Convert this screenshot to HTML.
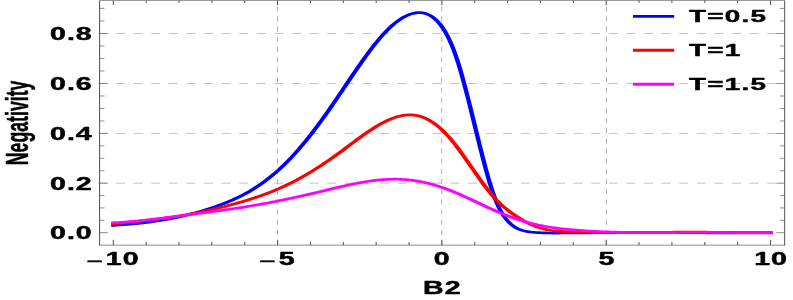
<!DOCTYPE html>
<html><head><meta charset="utf-8"><title>Negativity vs B2</title>
<style>
html,body{margin:0;padding:0;background:#fff;}
body{width:793px;height:300px;overflow:hidden;}
svg{display:block;will-change:transform;}
text{font-family:"Liberation Sans",sans-serif;font-weight:bold;fill:#000;stroke:#000;stroke-width:0.45px;stroke-linejoin:round;}
</style></head><body>
<svg width="793" height="300" viewBox="0 0 793 300">
<rect x="0" y="0" width="793" height="300" fill="#ffffff"/>

<g stroke-width="1" fill="none">
<line x1="98.35" y1="183.18" x2="784.65" y2="183.18" stroke="#c3c3c3" stroke-dasharray="9 8.6"/>
<line x1="98.35" y1="133.45" x2="784.65" y2="133.45" stroke="#c3c3c3" stroke-dasharray="9 8.6"/>
<line x1="98.35" y1="83.50" x2="784.65" y2="83.50" stroke="#c3c3c3" stroke-dasharray="9 8.6"/>
<line x1="98.35" y1="33.50" x2="784.65" y2="33.50" stroke="#c3c3c3" stroke-dasharray="9 8.6"/>
<line x1="277.50" y1="245.15" x2="277.50" y2="0.4" stroke="#adadad" stroke-dasharray="5 5.17"/>
<line x1="441.70" y1="245.15" x2="441.70" y2="0.4" stroke="#adadad" stroke-dasharray="5 5.17"/>
<line x1="606.45" y1="245.15" x2="606.45" y2="0.4" stroke="#adadad" stroke-dasharray="5 5.17"/>
</g>
<g transform="scale(1.62,1)" fill="none" stroke-width="2.7" stroke-linejoin="round">
<path d="M68.64 225.58L69.62 225.47L70.59 225.36L71.57 225.24L72.54 225.13L73.52 225.01L74.49 224.89L75.47 224.77L76.44 224.65L77.42 224.53L78.39 224.40L79.37 224.26L80.34 224.13L81.32 223.99L82.29 223.85L83.27 223.70L84.24 223.55L85.22 223.39L86.19 223.23L87.17 223.06L88.14 222.89L89.12 222.71L90.09 222.52L91.07 222.33L92.04 222.13L93.02 221.93L93.99 221.72L94.97 221.50L95.94 221.28L96.92 221.04L97.89 220.80L98.87 220.55L99.84 220.30L100.82 220.03L101.79 219.75L102.77 219.47L103.74 219.18L104.72 218.88L105.69 218.57L106.67 218.26L107.64 217.93L108.62 217.60L109.59 217.26L110.57 216.91L111.54 216.55L112.52 216.19L113.49 215.81L114.47 215.43L115.44 215.04L116.42 214.64L117.39 214.24L118.37 213.82L119.34 213.40L120.32 212.97L121.29 212.53L122.27 212.08L123.24 211.62L124.22 211.16L125.19 210.69L126.17 210.21L127.14 209.72L128.12 209.22L129.09 208.72L130.07 208.20L131.04 207.68L132.02 207.15L132.99 206.61L133.97 206.06L134.94 205.50L135.92 204.93L136.89 204.34L137.87 203.74L138.84 203.13L139.82 202.51L140.79 201.86L141.77 201.21L142.74 200.54L143.72 199.85L144.69 199.14L145.67 198.41L146.64 197.67L147.62 196.91L148.59 196.12L149.57 195.32L150.54 194.49L151.52 193.64L152.49 192.77L153.47 191.88L154.44 190.96L155.42 190.02L156.39 189.05L157.37 188.06L158.34 187.04L159.32 185.99L160.29 184.92L161.27 183.83L162.24 182.70L163.22 181.55L164.19 180.37L165.17 179.17L166.14 177.93L167.12 176.67L168.09 175.38L169.07 174.06L170.04 172.71L171.02 171.33L171.99 169.93L172.97 168.49L173.94 167.02L174.92 165.52L175.89 163.99L176.87 162.43L177.84 160.84L178.82 159.21L179.79 157.56L180.77 155.87L181.74 154.15L182.72 152.40L183.69 150.62L184.67 148.81L185.64 146.97L186.62 145.11L187.59 143.21L188.57 141.29L189.54 139.35L190.52 137.37L191.49 135.38L192.47 133.35L193.44 131.31L194.41 129.24L195.39 127.15L196.36 125.03L197.34 122.90L198.31 120.74L199.29 118.56L200.26 116.37L201.24 114.15L202.21 111.92L203.19 109.66L204.16 107.39L205.14 105.11L206.11 102.81L207.09 100.50L208.06 98.17L209.04 95.84L210.01 93.50L210.99 91.16L211.96 88.81L212.94 86.47L213.91 84.12L214.89 81.78L215.86 79.44L216.84 77.11L217.81 74.78L218.79 72.47L219.76 70.17L220.74 67.88L221.71 65.61L222.69 63.35L223.66 61.12L224.64 58.90L225.61 56.71L226.59 54.55L227.56 52.41L228.54 50.30L229.51 48.23L230.49 46.19L231.46 44.19L232.44 42.23L233.41 40.31L234.39 38.44L235.36 36.62L236.34 34.84L237.31 33.12L238.29 31.45L239.26 29.84L240.24 28.29L241.21 26.80L242.19 25.38L243.16 24.02L244.14 22.73L245.11 21.51L246.09 20.36L247.06 19.28L248.04 18.28L249.01 17.34L249.99 16.49L250.96 15.72L251.94 15.02L252.91 14.40L253.89 13.87L254.86 13.43L255.84 13.07L256.81 12.82L257.79 12.66L258.76 12.61L259.74 12.66L260.71 12.83L261.69 13.12L262.66 13.54L263.64 14.08L264.61 14.76L265.59 15.58L266.56 16.55L267.54 17.67L268.51 18.96L269.49 20.43L270.46 22.07L271.44 23.90L272.41 25.92L273.39 28.14L274.36 30.58L275.34 33.26L276.31 36.18L277.29 39.36L278.26 42.81L279.24 46.55L280.21 50.59L281.19 54.94L282.16 59.60L283.14 64.55L284.11 69.76L285.09 75.21L286.06 80.87L287.04 86.72L288.01 92.73L288.99 98.87L289.96 105.13L290.94 111.47L291.91 117.87L292.89 124.30L293.86 130.74L294.84 137.15L295.81 143.52L296.79 149.81L297.76 156.00L298.74 162.05L299.71 167.96L300.69 173.67L301.66 179.18L302.64 184.43L303.61 189.42L304.59 194.10L305.56 198.44L306.54 202.42L307.51 206.00L308.49 209.22L309.46 212.09L310.44 214.65L311.41 216.95L312.39 219.01L313.36 220.88L314.34 222.55L315.31 224.04L316.29 225.35L317.26 226.50L318.24 227.49L319.21 228.34L320.19 229.06L321.16 229.67L322.14 230.19L323.11 230.64L324.09 231.02L325.06 231.35L326.04 231.62L327.01 231.85L327.99 232.05L328.96 232.22L329.94 232.37L330.91 232.50L331.89 232.60L332.86 232.69L333.84 232.77L334.81 232.83L335.79 232.89L336.76 232.93L337.74 232.96L338.71 232.99L339.69 233.01L340.66 233.03L341.64 233.04L342.61 233.04L343.59 233.04L344.56 233.04L345.54 233.03L346.51 233.02L347.49 233.01L348.46 233.00L349.44 232.98L350.41 232.97L351.39 232.95L352.36 232.94L353.34 232.92L354.31 232.91L355.29 232.89L356.26 232.88L357.24 232.87L358.21 232.85L359.19 232.84L360.16 232.83L361.14 232.82L362.11 232.81L363.09 232.80L364.06 232.79L365.04 232.78L366.01 232.77L366.99 232.76L367.96 232.76L368.94 232.75L369.91 232.74L370.89 232.73L371.86 232.73L372.84 232.72L373.81 232.72L374.79 232.71L375.76 232.71L376.74 232.70L377.71 232.70L378.69 232.69L379.66 232.69L380.64 232.69L381.61 232.68L382.59 232.68L383.56 232.68L384.54 232.68L385.51 232.67L386.49 232.67L387.46 232.67L388.44 232.67L389.41 232.67L390.39 232.67L391.36 232.67L392.34 232.67L393.31 232.67L394.29 232.67L395.26 232.67L396.24 232.67L397.21 232.67L398.19 232.67L399.16 232.67L400.14 232.67L401.11 232.67L402.09 232.68L403.06 232.68L404.04 232.68L405.01 232.68L405.99 232.68L406.96 232.68L407.94 232.69L408.91 232.69L409.89 232.69L410.86 232.69L411.84 232.70L412.81 232.70L413.79 232.70L414.76 232.70L415.74 232.71L416.71 232.71L417.69 232.71L418.66 232.72L419.64 232.72L420.61 232.72L421.59 232.72L422.56 232.73L423.54 232.73L424.51 232.73L425.49 232.74L426.46 232.74L427.44 232.75L428.41 232.75L429.39 232.75L430.36 232.76L431.34 232.76L432.31 232.76L433.29 232.77L434.26 232.77L435.24 232.77L436.21 232.78L437.19 232.78L438.16 232.79L439.14 232.79L440.11 232.79L441.09 232.80L442.06 232.80L443.04 232.80L444.01 232.81L444.99 232.81L445.96 232.82L446.94 232.82L447.91 232.82L448.89 232.83L449.86 232.83L450.84 232.83L451.81 232.84L452.79 232.84L453.76 232.85L454.74 232.85L455.71 232.85L456.69 232.86L457.66 232.86L458.64 232.86L459.61 232.87L460.59 232.87L461.56 232.87L462.54 232.87L463.51 232.88L464.49 232.88L465.46 232.88L466.44 232.89L467.41 232.89L468.39 232.89L469.36 232.89L470.34 232.90L471.31 232.90L472.29 232.90L473.26 232.90L474.24 232.91L475.21 232.91L476.19 232.91L477.16 232.91" stroke="#0000ff"/>
<path d="M68.64 224.23L69.62 224.03L70.59 223.84L71.57 223.65L72.54 223.46L73.52 223.28L74.49 223.10L75.47 222.92L76.44 222.75L77.42 222.58L78.39 222.41L79.37 222.24L80.34 222.07L81.32 221.90L82.29 221.73L83.27 221.57L84.24 221.40L85.22 221.23L86.19 221.07L87.17 220.90L88.14 220.73L89.12 220.56L90.09 220.39L91.07 220.22L92.04 220.05L93.02 219.87L93.99 219.69L94.97 219.51L95.94 219.33L96.92 219.14L97.89 218.95L98.87 218.76L99.84 218.56L100.82 218.36L101.79 218.15L102.77 217.94L103.74 217.72L104.72 217.50L105.69 217.27L106.67 217.04L107.64 216.80L108.62 216.56L109.59 216.31L110.57 216.05L111.54 215.79L112.52 215.53L113.49 215.26L114.47 214.98L115.44 214.70L116.42 214.41L117.39 214.12L118.37 213.82L119.34 213.52L120.32 213.21L121.29 212.90L122.27 212.58L123.24 212.26L124.22 211.93L125.19 211.60L126.17 211.26L127.14 210.92L128.12 210.57L129.09 210.21L130.07 209.86L131.04 209.49L132.02 209.13L132.99 208.75L133.97 208.38L134.94 207.99L135.92 207.61L136.89 207.21L137.87 206.82L138.84 206.42L139.82 206.01L140.79 205.60L141.77 205.19L142.74 204.77L143.72 204.34L144.69 203.91L145.67 203.48L146.64 203.04L147.62 202.59L148.59 202.14L149.57 201.68L150.54 201.21L151.52 200.74L152.49 200.26L153.47 199.77L154.44 199.28L155.42 198.78L156.39 198.27L157.37 197.75L158.34 197.22L159.32 196.68L160.29 196.13L161.27 195.58L162.24 195.01L163.22 194.44L164.19 193.85L165.17 193.25L166.14 192.65L167.12 192.03L168.09 191.40L169.07 190.76L170.04 190.10L171.02 189.44L171.99 188.76L172.97 188.07L173.94 187.37L174.92 186.65L175.89 185.92L176.87 185.17L177.84 184.42L178.82 183.64L179.79 182.86L180.77 182.06L181.74 181.24L182.72 180.41L183.69 179.57L184.67 178.71L185.64 177.84L186.62 176.96L187.59 176.06L188.57 175.15L189.54 174.22L190.52 173.29L191.49 172.34L192.47 171.38L193.44 170.41L194.41 169.42L195.39 168.42L196.36 167.42L197.34 166.40L198.31 165.36L199.29 164.32L200.26 163.27L201.24 162.20L202.21 161.13L203.19 160.04L204.16 158.95L205.14 157.84L206.11 156.73L207.09 155.60L208.06 154.47L209.04 153.32L210.01 152.17L210.99 151.01L211.96 149.84L212.94 148.66L213.91 147.48L214.89 146.30L215.86 145.12L216.84 143.93L217.81 142.75L218.79 141.57L219.76 140.40L220.74 139.24L221.71 138.08L222.69 136.93L223.66 135.79L224.64 134.67L225.61 133.56L226.59 132.47L227.56 131.39L228.54 130.34L229.51 129.30L230.49 128.29L231.46 127.29L232.44 126.33L233.41 125.39L234.39 124.48L235.36 123.60L236.34 122.75L237.31 121.94L238.29 121.16L239.26 120.41L240.24 119.71L241.21 119.04L242.19 118.42L243.16 117.84L244.14 117.30L245.11 116.81L246.09 116.38L247.06 115.99L248.04 115.66L249.01 115.38L249.99 115.16L250.96 115.00L251.94 114.90L252.91 114.86L253.89 114.89L254.86 114.99L255.84 115.15L256.81 115.38L257.79 115.69L258.76 116.06L259.74 116.52L260.71 117.05L261.69 117.66L262.66 118.34L263.64 119.10L264.61 119.94L265.59 120.84L266.56 121.83L267.54 122.88L268.51 124.01L269.49 125.21L270.46 126.48L271.44 127.82L272.41 129.24L273.39 130.72L274.36 132.28L275.34 133.90L276.31 135.59L277.29 137.35L278.26 139.18L279.24 141.07L280.21 143.02L281.19 145.03L282.16 147.09L283.14 149.19L284.11 151.33L285.09 153.51L286.06 155.72L287.04 157.95L288.01 160.20L288.99 162.46L289.96 164.74L290.94 167.02L291.91 169.30L292.89 171.57L293.86 173.83L294.84 176.08L295.81 178.31L296.79 180.51L297.76 182.68L298.74 184.82L299.71 186.92L300.69 188.97L301.66 190.97L302.64 192.92L303.61 194.81L304.59 196.63L305.56 198.39L306.54 200.07L307.51 201.69L308.49 203.23L309.46 204.71L310.44 206.14L311.41 207.50L312.39 208.81L313.36 210.08L314.34 211.29L315.31 212.47L316.29 213.60L317.26 214.70L318.24 215.76L319.21 216.80L320.19 217.80L321.16 218.77L322.14 219.71L323.11 220.62L324.09 221.49L325.06 222.32L326.04 223.12L327.01 223.89L327.99 224.61L328.96 225.30L329.94 225.95L330.91 226.56L331.89 227.13L332.86 227.65L333.84 228.14L334.81 228.58L335.79 228.98L336.76 229.35L337.74 229.68L338.71 229.98L339.69 230.25L340.66 230.49L341.64 230.70L342.61 230.89L343.59 231.06L344.56 231.20L345.54 231.33L346.51 231.44L347.49 231.53L348.46 231.62L349.44 231.69L350.41 231.76L351.39 231.82L352.36 231.87L353.34 231.93L354.31 231.98L355.29 232.03L356.26 232.07L357.24 232.11L358.21 232.15L359.19 232.19L360.16 232.23L361.14 232.26L362.11 232.29L363.09 232.32L364.06 232.35L365.04 232.37L366.01 232.40L366.99 232.42L367.96 232.44L368.94 232.45L369.91 232.47L370.89 232.48L371.86 232.49L372.84 232.50L373.81 232.51L374.79 232.52L375.76 232.53L376.74 232.53L377.71 232.54L378.69 232.54L379.66 232.54L380.64 232.54L381.61 232.54L382.59 232.54L383.56 232.54L384.54 232.53L385.51 232.53L386.49 232.52L387.46 232.52L388.44 232.51L389.41 232.50L390.39 232.50L391.36 232.49L392.34 232.48L393.31 232.47L394.29 232.46L395.26 232.45L396.24 232.44L397.21 232.43L398.19 232.42L399.16 232.41L400.14 232.39L401.11 232.38L402.09 232.37L403.06 232.36L404.04 232.35L405.01 232.34L405.99 232.32L406.96 232.31L407.94 232.30L408.91 232.29L409.89 232.28L410.86 232.27L411.84 232.26L412.81 232.25L413.79 232.24L414.76 232.23L415.74 232.22L416.71 232.21L417.69 232.20L418.66 232.20L419.64 232.19L420.61 232.18L421.59 232.18L422.56 232.17L423.54 232.17L424.51 232.17L425.49 232.17L426.46 232.17L427.44 232.17L428.41 232.17L429.39 232.17L430.36 232.17L431.34 232.18L432.31 232.18L433.29 232.19L434.26 232.20L435.24 232.21L436.21 232.22L437.19 232.23L438.16 232.24L439.14 232.25L440.11 232.27L441.09 232.28L442.06 232.30L443.04 232.31L444.01 232.33L444.99 232.34L445.96 232.36L446.94 232.38L447.91 232.39L448.89 232.41L449.86 232.43L450.84 232.44L451.81 232.46L452.79 232.47L453.76 232.49L454.74 232.51L455.71 232.52L456.69 232.53L457.66 232.55L458.64 232.56L459.61 232.57L460.59 232.59L461.56 232.60L462.54 232.61L463.51 232.62L464.49 232.62L465.46 232.63L466.44 232.64L467.41 232.64L468.39 232.64L469.36 232.64L470.34 232.64L471.31 232.64L472.29 232.64L473.26 232.63L474.24 232.63L475.21 232.62L476.19 232.61L477.16 232.59" stroke="#ff0000"/>
<path d="M68.64 222.85L69.62 222.79L70.59 222.72L71.57 222.65L72.54 222.57L73.52 222.48L74.49 222.39L75.47 222.29L76.44 222.18L77.42 222.07L78.39 221.95L79.37 221.82L80.34 221.69L81.32 221.56L82.29 221.41L83.27 221.27L84.24 221.12L85.22 220.96L86.19 220.80L87.17 220.64L88.14 220.47L89.12 220.30L90.09 220.12L91.07 219.95L92.04 219.76L93.02 219.58L93.99 219.39L94.97 219.20L95.94 219.01L96.92 218.81L97.89 218.61L98.87 218.42L99.84 218.21L100.82 218.01L101.79 217.81L102.77 217.60L103.74 217.40L104.72 217.19L105.69 216.98L106.67 216.78L107.64 216.57L108.62 216.36L109.59 216.15L110.57 215.95L111.54 215.74L112.52 215.54L113.49 215.33L114.47 215.13L115.44 214.92L116.42 214.72L117.39 214.51L118.37 214.31L119.34 214.11L120.32 213.90L121.29 213.70L122.27 213.50L123.24 213.29L124.22 213.09L125.19 212.88L126.17 212.68L127.14 212.47L128.12 212.26L129.09 212.06L130.07 211.85L131.04 211.64L132.02 211.43L132.99 211.22L133.97 211.00L134.94 210.79L135.92 210.57L136.89 210.35L137.87 210.13L138.84 209.91L139.82 209.69L140.79 209.46L141.77 209.24L142.74 209.01L143.72 208.78L144.69 208.54L145.67 208.31L146.64 208.07L147.62 207.83L148.59 207.58L149.57 207.34L150.54 207.09L151.52 206.84L152.49 206.58L153.47 206.32L154.44 206.06L155.42 205.80L156.39 205.53L157.37 205.26L158.34 204.98L159.32 204.71L160.29 204.42L161.27 204.14L162.24 203.85L163.22 203.56L164.19 203.27L165.17 202.98L166.14 202.68L167.12 202.38L168.09 202.07L169.07 201.77L170.04 201.46L171.02 201.14L171.99 200.83L172.97 200.51L173.94 200.19L174.92 199.87L175.89 199.54L176.87 199.21L177.84 198.88L178.82 198.55L179.79 198.21L180.77 197.87L181.74 197.53L182.72 197.19L183.69 196.84L184.67 196.49L185.64 196.14L186.62 195.79L187.59 195.44L188.57 195.08L189.54 194.72L190.52 194.36L191.49 194.00L192.47 193.63L193.44 193.26L194.41 192.89L195.39 192.52L196.36 192.15L197.34 191.77L198.31 191.40L199.29 191.02L200.26 190.64L201.24 190.26L202.21 189.88L203.19 189.50L204.16 189.12L205.14 188.74L206.11 188.36L207.09 187.99L208.06 187.61L209.04 187.24L210.01 186.87L210.99 186.51L211.96 186.15L212.94 185.80L213.91 185.44L214.89 185.10L215.86 184.76L216.84 184.43L217.81 184.10L218.79 183.78L219.76 183.47L220.74 183.16L221.71 182.86L222.69 182.58L223.66 182.30L224.64 182.03L225.61 181.77L226.59 181.52L227.56 181.28L228.54 181.05L229.51 180.84L230.49 180.63L231.46 180.44L232.44 180.26L233.41 180.10L234.39 179.94L235.36 179.80L236.34 179.68L237.31 179.57L238.29 179.47L239.26 179.39L240.24 179.32L241.21 179.27L242.19 179.24L243.16 179.22L244.14 179.22L245.11 179.23L246.09 179.26L247.06 179.31L248.04 179.38L249.01 179.47L249.99 179.57L250.96 179.69L251.94 179.84L252.91 180.00L253.89 180.18L254.86 180.38L255.84 180.60L256.81 180.84L257.79 181.10L258.76 181.38L259.74 181.68L260.71 182.00L261.69 182.33L262.66 182.68L263.64 183.06L264.61 183.44L265.59 183.85L266.56 184.28L267.54 184.72L268.51 185.17L269.49 185.65L270.46 186.14L271.44 186.65L272.41 187.17L273.39 187.72L274.36 188.27L275.34 188.84L276.31 189.43L277.29 190.03L278.26 190.65L279.24 191.28L280.21 191.93L281.19 192.59L282.16 193.26L283.14 193.94L284.11 194.64L285.09 195.34L286.06 196.05L287.04 196.76L288.01 197.49L288.99 198.22L289.96 198.95L290.94 199.69L291.91 200.43L292.89 201.17L293.86 201.92L294.84 202.66L295.81 203.41L296.79 204.15L297.76 204.89L298.74 205.63L299.71 206.36L300.69 207.09L301.66 207.81L302.64 208.53L303.61 209.23L304.59 209.93L305.56 210.63L306.54 211.31L307.51 211.98L308.49 212.65L309.46 213.30L310.44 213.95L311.41 214.58L312.39 215.21L313.36 215.82L314.34 216.42L315.31 217.01L316.29 217.59L317.26 218.16L318.24 218.71L319.21 219.25L320.19 219.78L321.16 220.29L322.14 220.79L323.11 221.27L324.09 221.74L325.06 222.20L326.04 222.64L327.01 223.06L327.99 223.47L328.96 223.86L329.94 224.23L330.91 224.59L331.89 224.94L332.86 225.27L333.84 225.59L334.81 225.89L335.79 226.18L336.76 226.46L337.74 226.73L338.71 226.99L339.69 227.24L340.66 227.47L341.64 227.70L342.61 227.91L343.59 228.12L344.56 228.32L345.54 228.51L346.51 228.70L347.49 228.87L348.46 229.04L349.44 229.20L350.41 229.36L351.39 229.51L352.36 229.66L353.34 229.80L354.31 229.94L355.29 230.08L356.26 230.20L357.24 230.33L358.21 230.45L359.19 230.57L360.16 230.68L361.14 230.79L362.11 230.89L363.09 230.99L364.06 231.09L365.04 231.18L366.01 231.27L366.99 231.36L367.96 231.44L368.94 231.52L369.91 231.59L370.89 231.66L371.86 231.73L372.84 231.80L373.81 231.86L374.79 231.92L375.76 231.97L376.74 232.03L377.71 232.08L378.69 232.12L379.66 232.17L380.64 232.21L381.61 232.25L382.59 232.29L383.56 232.32L384.54 232.35L385.51 232.38L386.49 232.41L387.46 232.44L388.44 232.46L389.41 232.48L390.39 232.50L391.36 232.52L392.34 232.54L393.31 232.55L394.29 232.56L395.26 232.57L396.24 232.58L397.21 232.59L398.19 232.59L399.16 232.60L400.14 232.60L401.11 232.60L402.09 232.61L403.06 232.61L404.04 232.60L405.01 232.60L405.99 232.60L406.96 232.60L407.94 232.59L408.91 232.59L409.89 232.58L410.86 232.57L411.84 232.57L412.81 232.56L413.79 232.55L414.76 232.54L415.74 232.53L416.71 232.53L417.69 232.52L418.66 232.51L419.64 232.50L420.61 232.49L421.59 232.48L422.56 232.48L423.54 232.47L424.51 232.46L425.49 232.45L426.46 232.45L427.44 232.44L428.41 232.44L429.39 232.43L430.36 232.43L431.34 232.42L432.31 232.42L433.29 232.42L434.26 232.42L435.24 232.42L436.21 232.42L437.19 232.43L438.16 232.43L439.14 232.43L440.11 232.44L441.09 232.44L442.06 232.45L443.04 232.45L444.01 232.46L444.99 232.46L445.96 232.47L446.94 232.48L447.91 232.48L448.89 232.49L449.86 232.50L450.84 232.50L451.81 232.51L452.79 232.52L453.76 232.52L454.74 232.53L455.71 232.54L456.69 232.54L457.66 232.55L458.64 232.55L459.61 232.56L460.59 232.56L461.56 232.56L462.54 232.57L463.51 232.57L464.49 232.57L465.46 232.57L466.44 232.57L467.41 232.57L468.39 232.57L469.36 232.56L470.34 232.56L471.31 232.55L472.29 232.55L473.26 232.54L474.24 232.53L475.21 232.52L476.19 232.51L477.16 232.49" stroke="#ff00ff"/>
</g>
<g fill="none">
<line x1="99.55" y1="0.4" x2="99.55" y2="245.5" stroke="#585858" stroke-width="1.05"/>
<line x1="784.65" y1="0.4" x2="784.65" y2="245.5" stroke="#585858" stroke-width="1.05"/>
<line x1="99.55" y1="0.4" x2="784.65" y2="0.4" stroke="#6a6a6a" stroke-width="0.75"/>
<line x1="99.55" y1="245.15" x2="784.65" y2="245.15" stroke="#6a6a6a" stroke-width="0.75"/>
<line x1="113.30" y1="245.15" x2="113.30" y2="239.85" stroke="#585858" stroke-width="1.05"/>
<line x1="113.30" y1="0.4" x2="113.30" y2="5.0" stroke="#585858" stroke-width="1.05"/>
<line x1="146.16" y1="245.15" x2="146.16" y2="241.95000000000002" stroke="#585858" stroke-width="1.05"/>
<line x1="146.16" y1="0.4" x2="146.16" y2="2.9000000000000004" stroke="#585858" stroke-width="1.05"/>
<line x1="179.02" y1="245.15" x2="179.02" y2="241.95000000000002" stroke="#585858" stroke-width="1.05"/>
<line x1="179.02" y1="0.4" x2="179.02" y2="2.9000000000000004" stroke="#585858" stroke-width="1.05"/>
<line x1="211.88" y1="245.15" x2="211.88" y2="241.95000000000002" stroke="#585858" stroke-width="1.05"/>
<line x1="211.88" y1="0.4" x2="211.88" y2="2.9000000000000004" stroke="#585858" stroke-width="1.05"/>
<line x1="244.74" y1="245.15" x2="244.74" y2="241.95000000000002" stroke="#585858" stroke-width="1.05"/>
<line x1="244.74" y1="0.4" x2="244.74" y2="2.9000000000000004" stroke="#585858" stroke-width="1.05"/>
<line x1="277.60" y1="245.15" x2="277.60" y2="239.85" stroke="#585858" stroke-width="1.05"/>
<line x1="277.60" y1="0.4" x2="277.60" y2="5.0" stroke="#585858" stroke-width="1.05"/>
<line x1="310.46" y1="245.15" x2="310.46" y2="241.95000000000002" stroke="#585858" stroke-width="1.05"/>
<line x1="310.46" y1="0.4" x2="310.46" y2="2.9000000000000004" stroke="#585858" stroke-width="1.05"/>
<line x1="343.32" y1="245.15" x2="343.32" y2="241.95000000000002" stroke="#585858" stroke-width="1.05"/>
<line x1="343.32" y1="0.4" x2="343.32" y2="2.9000000000000004" stroke="#585858" stroke-width="1.05"/>
<line x1="376.18" y1="245.15" x2="376.18" y2="241.95000000000002" stroke="#585858" stroke-width="1.05"/>
<line x1="376.18" y1="0.4" x2="376.18" y2="2.9000000000000004" stroke="#585858" stroke-width="1.05"/>
<line x1="409.04" y1="245.15" x2="409.04" y2="241.95000000000002" stroke="#585858" stroke-width="1.05"/>
<line x1="409.04" y1="0.4" x2="409.04" y2="2.9000000000000004" stroke="#585858" stroke-width="1.05"/>
<line x1="441.90" y1="245.15" x2="441.90" y2="239.85" stroke="#585858" stroke-width="1.05"/>
<line x1="441.90" y1="0.4" x2="441.90" y2="5.0" stroke="#585858" stroke-width="1.05"/>
<line x1="474.76" y1="245.15" x2="474.76" y2="241.95000000000002" stroke="#585858" stroke-width="1.05"/>
<line x1="474.76" y1="0.4" x2="474.76" y2="2.9000000000000004" stroke="#585858" stroke-width="1.05"/>
<line x1="507.62" y1="245.15" x2="507.62" y2="241.95000000000002" stroke="#585858" stroke-width="1.05"/>
<line x1="507.62" y1="0.4" x2="507.62" y2="2.9000000000000004" stroke="#585858" stroke-width="1.05"/>
<line x1="540.48" y1="245.15" x2="540.48" y2="241.95000000000002" stroke="#585858" stroke-width="1.05"/>
<line x1="540.48" y1="0.4" x2="540.48" y2="2.9000000000000004" stroke="#585858" stroke-width="1.05"/>
<line x1="573.34" y1="245.15" x2="573.34" y2="241.95000000000002" stroke="#585858" stroke-width="1.05"/>
<line x1="573.34" y1="0.4" x2="573.34" y2="2.9000000000000004" stroke="#585858" stroke-width="1.05"/>
<line x1="606.20" y1="245.15" x2="606.20" y2="239.85" stroke="#585858" stroke-width="1.05"/>
<line x1="606.20" y1="0.4" x2="606.20" y2="5.0" stroke="#585858" stroke-width="1.05"/>
<line x1="639.06" y1="245.15" x2="639.06" y2="241.95000000000002" stroke="#585858" stroke-width="1.05"/>
<line x1="639.06" y1="0.4" x2="639.06" y2="2.9000000000000004" stroke="#585858" stroke-width="1.05"/>
<line x1="671.92" y1="245.15" x2="671.92" y2="241.95000000000002" stroke="#585858" stroke-width="1.05"/>
<line x1="671.92" y1="0.4" x2="671.92" y2="2.9000000000000004" stroke="#585858" stroke-width="1.05"/>
<line x1="704.78" y1="245.15" x2="704.78" y2="241.95000000000002" stroke="#585858" stroke-width="1.05"/>
<line x1="704.78" y1="0.4" x2="704.78" y2="2.9000000000000004" stroke="#585858" stroke-width="1.05"/>
<line x1="737.64" y1="245.15" x2="737.64" y2="241.95000000000002" stroke="#585858" stroke-width="1.05"/>
<line x1="737.64" y1="0.4" x2="737.64" y2="2.9000000000000004" stroke="#585858" stroke-width="1.05"/>
<line x1="770.50" y1="245.15" x2="770.50" y2="239.85" stroke="#585858" stroke-width="1.05"/>
<line x1="770.50" y1="0.4" x2="770.50" y2="5.0" stroke="#585858" stroke-width="1.05"/>
<line x1="99.55" y1="232.68" x2="107.85" y2="232.68" stroke="#6a6a6a" stroke-width="0.75"/>
<line x1="784.65" y1="232.68" x2="776.35" y2="232.68" stroke="#6a6a6a" stroke-width="0.75"/>
<line x1="99.55" y1="220.31" x2="104.45" y2="220.31" stroke="#6a6a6a" stroke-width="0.75"/>
<line x1="784.65" y1="220.31" x2="779.75" y2="220.31" stroke="#6a6a6a" stroke-width="0.75"/>
<line x1="99.55" y1="207.93" x2="104.45" y2="207.93" stroke="#6a6a6a" stroke-width="0.75"/>
<line x1="784.65" y1="207.93" x2="779.75" y2="207.93" stroke="#6a6a6a" stroke-width="0.75"/>
<line x1="99.55" y1="195.56" x2="104.45" y2="195.56" stroke="#6a6a6a" stroke-width="0.75"/>
<line x1="784.65" y1="195.56" x2="779.75" y2="195.56" stroke="#6a6a6a" stroke-width="0.75"/>
<line x1="99.55" y1="183.18" x2="107.85" y2="183.18" stroke="#6a6a6a" stroke-width="0.75"/>
<line x1="784.65" y1="183.18" x2="776.35" y2="183.18" stroke="#6a6a6a" stroke-width="0.75"/>
<line x1="99.55" y1="170.75" x2="104.45" y2="170.75" stroke="#6a6a6a" stroke-width="0.75"/>
<line x1="784.65" y1="170.75" x2="779.75" y2="170.75" stroke="#6a6a6a" stroke-width="0.75"/>
<line x1="99.55" y1="158.31" x2="104.45" y2="158.31" stroke="#6a6a6a" stroke-width="0.75"/>
<line x1="784.65" y1="158.31" x2="779.75" y2="158.31" stroke="#6a6a6a" stroke-width="0.75"/>
<line x1="99.55" y1="145.88" x2="104.45" y2="145.88" stroke="#6a6a6a" stroke-width="0.75"/>
<line x1="784.65" y1="145.88" x2="779.75" y2="145.88" stroke="#6a6a6a" stroke-width="0.75"/>
<line x1="99.55" y1="133.45" x2="107.85" y2="133.45" stroke="#6a6a6a" stroke-width="0.75"/>
<line x1="784.65" y1="133.45" x2="776.35" y2="133.45" stroke="#6a6a6a" stroke-width="0.75"/>
<line x1="99.55" y1="120.96" x2="104.45" y2="120.96" stroke="#6a6a6a" stroke-width="0.75"/>
<line x1="784.65" y1="120.96" x2="779.75" y2="120.96" stroke="#6a6a6a" stroke-width="0.75"/>
<line x1="99.55" y1="108.47" x2="104.45" y2="108.47" stroke="#6a6a6a" stroke-width="0.75"/>
<line x1="784.65" y1="108.47" x2="779.75" y2="108.47" stroke="#6a6a6a" stroke-width="0.75"/>
<line x1="99.55" y1="95.99" x2="104.45" y2="95.99" stroke="#6a6a6a" stroke-width="0.75"/>
<line x1="784.65" y1="95.99" x2="779.75" y2="95.99" stroke="#6a6a6a" stroke-width="0.75"/>
<line x1="99.55" y1="83.50" x2="107.85" y2="83.50" stroke="#6a6a6a" stroke-width="0.75"/>
<line x1="784.65" y1="83.50" x2="776.35" y2="83.50" stroke="#6a6a6a" stroke-width="0.75"/>
<line x1="99.55" y1="71.00" x2="104.45" y2="71.00" stroke="#6a6a6a" stroke-width="0.75"/>
<line x1="784.65" y1="71.00" x2="779.75" y2="71.00" stroke="#6a6a6a" stroke-width="0.75"/>
<line x1="99.55" y1="58.50" x2="104.45" y2="58.50" stroke="#6a6a6a" stroke-width="0.75"/>
<line x1="784.65" y1="58.50" x2="779.75" y2="58.50" stroke="#6a6a6a" stroke-width="0.75"/>
<line x1="99.55" y1="46.00" x2="104.45" y2="46.00" stroke="#6a6a6a" stroke-width="0.75"/>
<line x1="784.65" y1="46.00" x2="779.75" y2="46.00" stroke="#6a6a6a" stroke-width="0.75"/>
<line x1="99.55" y1="33.50" x2="107.85" y2="33.50" stroke="#6a6a6a" stroke-width="0.75"/>
<line x1="784.65" y1="33.50" x2="776.35" y2="33.50" stroke="#6a6a6a" stroke-width="0.75"/>
<line x1="99.55" y1="20.95" x2="104.45" y2="20.95" stroke="#6a6a6a" stroke-width="0.75"/>
<line x1="784.65" y1="20.95" x2="779.75" y2="20.95" stroke="#6a6a6a" stroke-width="0.75"/>
<line x1="99.55" y1="8.40" x2="104.45" y2="8.40" stroke="#6a6a6a" stroke-width="0.75"/>
<line x1="784.65" y1="8.40" x2="779.75" y2="8.40" stroke="#6a6a6a" stroke-width="0.75"/>
</g>
<text transform="translate(92.7,239.13) scale(1.63,1)" text-anchor="end" font-size="17.5" letter-spacing="0.6" >0.0</text>
<text transform="translate(92.7,189.63) scale(1.63,1)" text-anchor="end" font-size="17.5" letter-spacing="0.6" >0.2</text>
<text transform="translate(92.7,139.9) scale(1.63,1)" text-anchor="end" font-size="17.5" letter-spacing="0.6" >0.4</text>
<text transform="translate(92.7,89.95) scale(1.63,1)" text-anchor="end" font-size="17.5" letter-spacing="0.6" >0.6</text>
<text transform="translate(92.7,39.95) scale(1.63,1)" text-anchor="end" font-size="17.5" letter-spacing="0.6" >0.8</text>
<text transform="translate(112.9,264.8) scale(1.63,1)" text-anchor="middle" font-size="17.5" letter-spacing="0.6" ><tspan font-weight="normal" dy="2.0">−</tspan><tspan dy="-2.0" dx="1.1">10</tspan></text>
<text transform="translate(277.4,264.8) scale(1.63,1)" text-anchor="middle" font-size="17.5" letter-spacing="0.6" ><tspan font-weight="normal" dy="2.0">−</tspan><tspan dy="-2.0" dx="1.3">5</tspan></text>
<text transform="translate(442.2,264.8) scale(1.63,1)" text-anchor="middle" font-size="17.5" letter-spacing="0.6" >0</text>
<text transform="translate(606.8,264.8) scale(1.63,1)" text-anchor="middle" font-size="17.5" letter-spacing="0.6" >5</text>
<text transform="translate(771.0,264.8) scale(1.63,1)" text-anchor="middle" font-size="17.5" letter-spacing="0.6" >10</text>
<text transform="translate(442.3,294.1) scale(1.63,1)" text-anchor="middle" font-size="17.5" letter-spacing="0.6" >B2</text>
<text transform="translate(28.3,165.2) rotate(-90) scale(1,1.8)" font-size="17.6" style="letter-spacing:0.06px;stroke-width:0.3px">Negativity</text>
<line x1="633" y1="16.40" x2="674.2" y2="16.40" stroke="#0000ff" stroke-width="2.9"/>
<text transform="translate(689.0,22.3) scale(1.63,1)" text-anchor="start" font-size="17.1" letter-spacing="0.6" style="letter-spacing:0.75px">T=0.5</text>
<line x1="633" y1="50.30" x2="674.2" y2="50.30" stroke="#ff0000" stroke-width="2.9"/>
<text transform="translate(689.0,56.2) scale(1.63,1)" text-anchor="start" font-size="17.1" letter-spacing="0.6" style="letter-spacing:0.75px">T=1</text>
<line x1="633" y1="84.20" x2="674.2" y2="84.20" stroke="#ff00ff" stroke-width="2.9"/>
<text transform="translate(689.0,90.1) scale(1.63,1)" text-anchor="start" font-size="17.1" letter-spacing="0.6" style="letter-spacing:0.75px">T=1.5</text>
</svg></body></html>
